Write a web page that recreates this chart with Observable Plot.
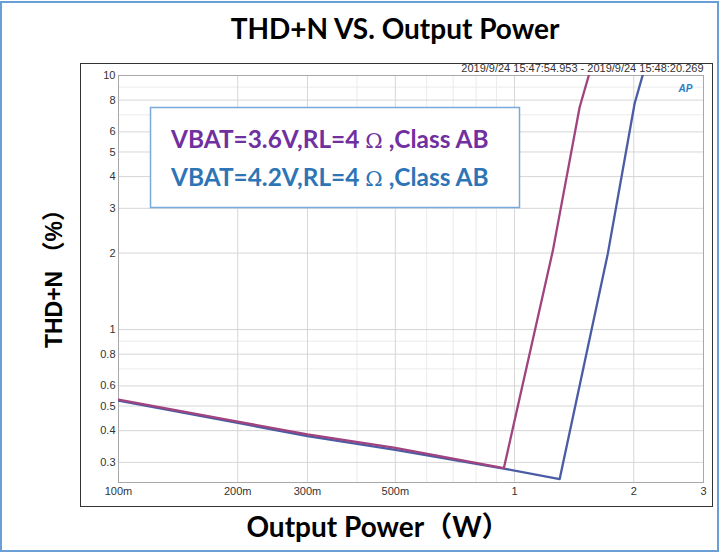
<!DOCTYPE html>
<html>
<head>
<meta charset="utf-8">
<script src="https://cdn.jsdelivr.net/npm/d3@7"></script>
<script src="https://cdn.jsdelivr.net/npm/@observablehq/plot@0.6"></script>
<style>
  html, body { margin: 0; padding: 0; background: #fff; }
  #wrap { position: relative; width: 723px; height: 552px; overflow: hidden; }
  #wrap svg { position: absolute; left: 0; top: 0; }
  .ov { position: absolute; pointer-events: none; box-sizing: border-box; }
</style>
</head>
<body>
<div id="wrap"></div>
<script>
// ---- data ----
const seriesNames = ["VBAT=3.6V,RL=4 Ω ,Class AB", "VBAT=4.2V,RL=4 Ω ,Class AB"];
const power36 = [0.1, 0.2, 0.3, 0.5, 0.94, 1.25, 1.46, 1.58];
const thdn36  = [0.53, 0.434, 0.387, 0.342, 0.285, 2.05, 7.5, 11.5];
const power42 = [0.1, 0.2, 0.3, 0.5, 0.947, 1.3, 1.72, 2.01, 2.16];
const thdn42  = [0.525, 0.429, 0.381, 0.336, 0.283, 0.258, 1.99, 7.76, 11.5];

const xTicks = [0.1, 0.2, 0.3, 0.5, 1, 2, 3];
const xTickLabels = ["100m", "200m", "300m", "500m", "1", "2", "3"];
const yTicks = [0.3, 0.4, 0.5, 0.6, 0.8, 1, 2, 3, 4, 5, 6, 8, 10];
const yTickLabels = ["0.3", "0.4", "0.5", "0.6", "0.8", "1", "2", "3", "4", "5", "6", "8", "10"];
const xGridMinor = [0.4, 0.6, 0.7, 0.8, 0.9];
const yGridMinor = [0.7, 0.9, 7, 9];

const titleText = "THD+N VS. Output Power";
const xLabel = "Output Power（W）";
const yLabel = "THD+N （%）";
const stampText = "2019/9/24 15:47:54.953 - 2019/9/24 15:48:20.269";

const colors36 = { line: "#a0437f", text: "#7030a0" };
const colors42 = { line: "#4a5ca3", text: "#2e75b6" };

// ---- build tables ----
const d36 = power36.map((p, i) => ({ p, t: thdn36[i] }));
const d42 = power42.map((p, i) => ({ p, t: thdn42[i] }));
const xTickRows = xTicks.map((v, i) => ({ v, label: xTickLabels[i] }));
const yTickRows = yTicks.map((v, i) => ({ v, label: yTickLabels[i] }));

function legendMark(index, scales, values, dims) {
  const g = d3.create("svg:g");
  const x0 = 150, y0 = 107, w = 369, h = 100;
  g.append("rect").attr("x", x0 + 0.5).attr("y", y0 + 0.5).attr("width", w).attr("height", h)
    .attr("fill", "#fff").attr("stroke", "#7aaadc").attr("stroke-width", 1.5);
  const rows = [
    { name: seriesNames[0], color: colors36.text, y: 148 },
    { name: seriesNames[1], color: colors42.text, y: 186 }
  ];
  for (const r of rows) {
    const parts = r.name.split("Ω");
    const t = g.append("text").attr("x", 171).attr("y", r.y).attr("text-anchor", "start")
      .attr("fill", r.color).attr("font-family", "Lato, 'Noto Sans CJK SC', sans-serif")
      .attr("font-size", 24.4).attr("font-weight", 700);
    t.append("tspan").text(parts[0]);
    t.append("tspan").attr("font-weight", 400).attr("font-family", "'DejaVu Serif', serif").attr("font-size", 21).text("Ω");
    t.append("tspan").text(parts[1]);
  }
  return g.node();
}

const chart = Plot.plot({
  width: 723,
  height: 552,
  marginLeft: 118,
  marginRight: 20,
  marginTop: 75,
  marginBottom: 70,
  style: { fontFamily: "'Liberation Sans', Arial, sans-serif", background: "transparent", overflow: "visible" },
  x: { type: "log", domain: [0.1, 3], axis: null },
  y: { type: "log", domain: [0.25, 10], axis: null },
  marks: [
    Plot.gridX(xGridMinor, { stroke: "#ebebeb", strokeOpacity: 1 }),
    Plot.gridY(yGridMinor, { stroke: "#ebebeb", strokeOpacity: 1 }),
    Plot.gridX(xTicks, { stroke: "#d6d6d6", strokeOpacity: 1 }),
    Plot.gridY(yTicks, { stroke: "#d6d6d6", strokeOpacity: 1 }),
    Plot.frame({ stroke: "#a8a8a8" }),
    Plot.text(xTickRows, { x: "v", frameAnchor: "bottom", text: "label", textAnchor: "middle", lineAnchor: "top", dy: 5, fontSize: 11, fill: "#333" }),
    Plot.text(yTickRows, { y: "v", frameAnchor: "left", text: "label", textAnchor: "end", lineAnchor: "middle", dx: -3, fontSize: 11, fill: "#333" }),
    Plot.line(d42, { x: "p", y: "t", stroke: colors42.line, strokeWidth: 2.3, clip: true }),
    Plot.line(d36, { x: "p", y: "t", stroke: colors36.line, strokeWidth: 2.3, clip: true }),
    legendMark,
    Plot.text([stampText], { frameAnchor: "top-right", textAnchor: "end", lineAnchor: "bottom", dy: -4, fontSize: 11, fill: "#333" }),
    Plot.text(["AP"], { frameAnchor: "top-right", textAnchor: "middle", lineAnchor: "middle", dx: -18, dy: 13, fontSize: 10, fontWeight: 700, fontStyle: "italic", fill: "#2a7fc4" }),
    Plot.text([titleText], { frameAnchor: "top", lineAnchor: "bottom", dx: -16, dy: -37, fontSize: 28, fontWeight: 700, fontFamily: "Lato, 'Noto Sans CJK SC', sans-serif", fill: "#000" }),
    Plot.text([xLabel], { frameAnchor: "bottom", lineAnchor: "bottom", dx: -33, dy: 54, fontSize: 28, fontWeight: 700, fontFamily: "Lato, 'Noto Sans CJK SC', sans-serif", fill: "#000" }),
    Plot.text([yLabel], { frameAnchor: "left", lineAnchor: "middle", textAnchor: "middle", rotate: -90, dx: -64, dy: -6, fontSize: 23, fontWeight: 700, fontFamily: "'Liberation Sans', 'Noto Sans CJK SC', sans-serif", fill: "#000" })
  ]
});

const wrap = document.getElementById("wrap");
wrap.appendChild(chart);
const panel = document.createElement("div");
panel.className = "ov";
Object.assign(panel.style, { left: "80px", top: "63px", width: "633px", height: "444px", border: "1px solid #333" });
wrap.appendChild(panel);
const outer = document.createElement("div");
outer.className = "ov";
Object.assign(outer.style, { left: "0px", top: "1px", width: "719px", height: "551px", border: "2px solid #6a9fd6" });
wrap.appendChild(outer);
</script>
</body>
</html>
